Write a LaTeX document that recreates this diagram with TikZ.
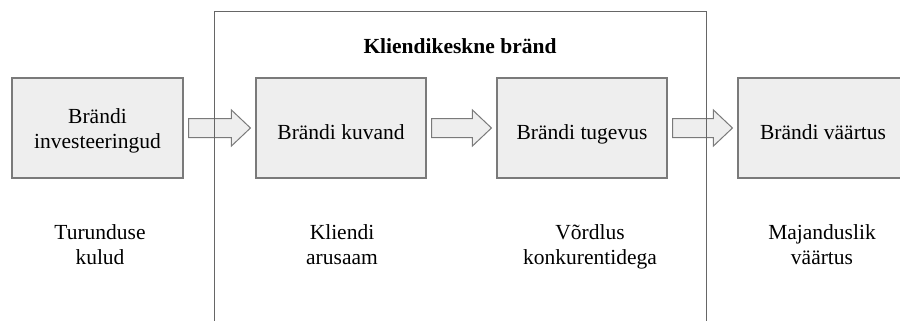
\documentclass[tikz,border=0pt]{standalone}
\usepackage{fontspec}
\setmainfont{Liberation Serif}
\usetikzlibrary{calc}
\definecolor{boxfill}{HTML}{EEEEEE}
\definecolor{boxline}{HTML}{7A7A7A}
\definecolor{frameline}{HTML}{666666}
\tikzset{
  caption/.style={align=center, inner sep=0pt, font=\fontsize{21.5}{25}\selectfont,
    execute at begin node=\strut, execute at end node=\strut},
  stagebox/.style n args={2}{draw=boxline, line width=1.1pt, fill=boxfill, minimum height=100pt,
    inner sep=0pt, label={[caption, yshift=#2]center:{#1}}},
  barrow/.style={draw=boxline, line width=1pt, fill=boxfill, line join=miter},
  framebox/.style={draw=frameline, line width=1pt}
}
% block arrow between two named nodes
\newcommand\blockarrow[2]{%
  \draw[barrow] let \p1=($(#1.east)+(5pt,0)$), \p2=($(#2.west)+(-5pt,0)$) in
    (\x1,\y1+9.5pt) -- (\x2-19pt,\y1+9.5pt) -- (\x2-19pt,\y1+18pt) -- (\x2,\y1)
    -- (\x2-19pt,\y1-18pt) -- (\x2-19pt,\y1-9.5pt) -- (\x1,\y1-9.5pt) -- cycle;}
\begin{document}
\begin{tikzpicture}[x=1pt,y=-1pt]
  \clip (0,0) rectangle (900,321);
  \fill[white] (0,0) rectangle (900,321);
  % stages
  \node[stagebox={Brändi\\investeeringud}{-4.5pt}, minimum width=171pt] (invest) at (97.5,128) {};
  \node[stagebox={Brändi kuvand}{-6.5pt}, minimum width=170pt] (image) at (341,128) {};
  \node[stagebox={Brändi tugevus}{-6.5pt}, minimum width=170pt] (strength) at (582,128) {};
  \node[stagebox={Brändi väärtus}{-6.5pt}, minimum width=170pt] (value) at (823,128) {};
  \blockarrow{invest}{image}
  \blockarrow{image}{strength}
  \blockarrow{strength}{value}
  % customer-centred frame, open at the bottom, drawn over the arrows
  \draw[framebox] (214,330) -- (214,12) -- (706,12) -- (706,330);
  \node[font=\fontsize{21.5}{25}\selectfont\bfseries, inner sep=0pt] (title) at (460,46) {Kliendikeskne bränd};
  % captions
  \node[caption] (c1) at (100,248) {Turunduse\\kulud};
  \node[caption] (c2) at (342,248) {Kliendi\\arusaam};
  \node[caption] (c3) at (590,248) {Võrdlus\\konkurentidega};
  \node[caption] (c4) at (822,248) {Majanduslik\\väärtus};
\end{tikzpicture}
\end{document}
